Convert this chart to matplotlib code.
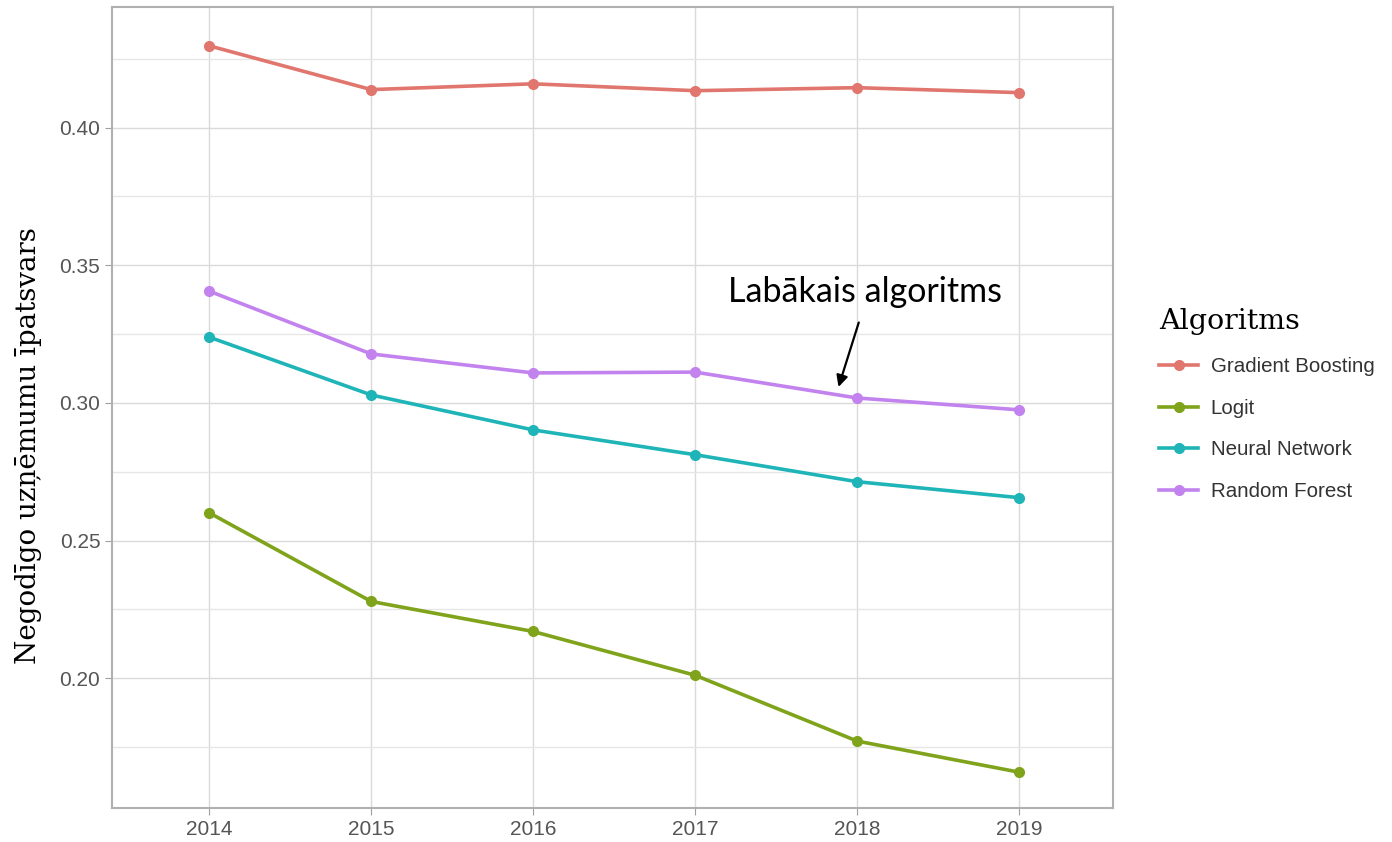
import matplotlib.pyplot as plt
from matplotlib.ticker import MultipleLocator

# Dati
gadi = [2014, 2015, 2016, 2017, 2018, 2019]
gradient_boosting = [0.4297, 0.4138, 0.4159, 0.4134, 0.4145, 0.4127]
logit = [0.2601, 0.2279, 0.2170, 0.2011, 0.1772, 0.1659]
neural_network = [0.3239, 0.3029, 0.2902, 0.2812, 0.2714, 0.2656]
random_forest = [0.3406, 0.3178, 0.3109, 0.3112, 0.3018, 0.2975]

nosaukumi = ["Gradient Boosting", "Logit", "Neural Network", "Random Forest"]
krasas = ["#E0766E", "#7FA31A", "#1FB5B8", "#C283EE"]
vertibas = [gradient_boosting, logit, neural_network, random_forest]

fig = plt.figure(figsize=(13.92, 8.42), dpi=100)
ax = fig.add_axes([0.0805, 0.0404, 0.7191, 0.9513])

for nos, kr, v in zip(nosaukumi, krasas, vertibas):
    ax.plot(gadi, v, color=kr, lw=2.6, marker="o", ms=7, label=nos)

ax.set_xlim(2013.40, 2019.58)
ax.set_ylim(0.1529, 0.4438)
ax.yaxis.set_minor_locator(MultipleLocator(0.025))
ax.set_xticks(gadi)
ax.set_yticks([0.20, 0.25, 0.30, 0.35, 0.40])
ax.set_yticklabels(["0.20", "0.25", "0.30", "0.35", "0.40"])

ax.grid(which="major", color="#DADADA", lw=1)
ax.grid(which="minor", axis="y", color="#E6E6E6", lw=1)
ax.set_axisbelow(True)
for s in ax.spines.values():
    s.set_color("#B0B0B0")
    s.set_linewidth(1.5)
ax.tick_params(axis="both", which="major", colors="#A0A0A0", length=5,
               labelcolor="#555555", labelsize=15)
ax.tick_params(which="minor", length=0)
for lbl in ax.get_xticklabels() + ax.get_yticklabels():
    lbl.set_fontfamily("Liberation Sans")

ax.set_ylabel("Negodīgo uzņēmumu īpatsvars", fontsize=20,
              family="DejaVu Serif")
ax.yaxis.set_label_coords(-0.070, 0.452)

# anotācija
ax.text(2018.05, 0.3404, "Labākais algoritms", fontsize=24.5, family="Lato",
        ha="center", va="center")
ax.annotate("", xy=(2017.885, 0.3058), xytext=(2018.01, 0.3292),
            arrowprops=dict(arrowstyle="-|>", color="black", lw=1.6,
                            mutation_scale=17, shrinkA=0, shrinkB=0))

leg = ax.legend(loc="upper left", bbox_to_anchor=(1.038, 0.635), frameon=False,
                title="Algoritms", fontsize=14.8, handlelength=1.9,
                labelspacing=1.1, borderaxespad=0, handletextpad=0.6)
leg.get_title().set_fontfamily("DejaVu Serif")
leg.get_title().set_fontsize(20.5)
leg._legend_box.align = "left"
for t in leg.get_texts():
    t.set_fontfamily("Liberation Sans")
    t.set_color("#333333")

fig.savefig("out.png", dpi=100)
